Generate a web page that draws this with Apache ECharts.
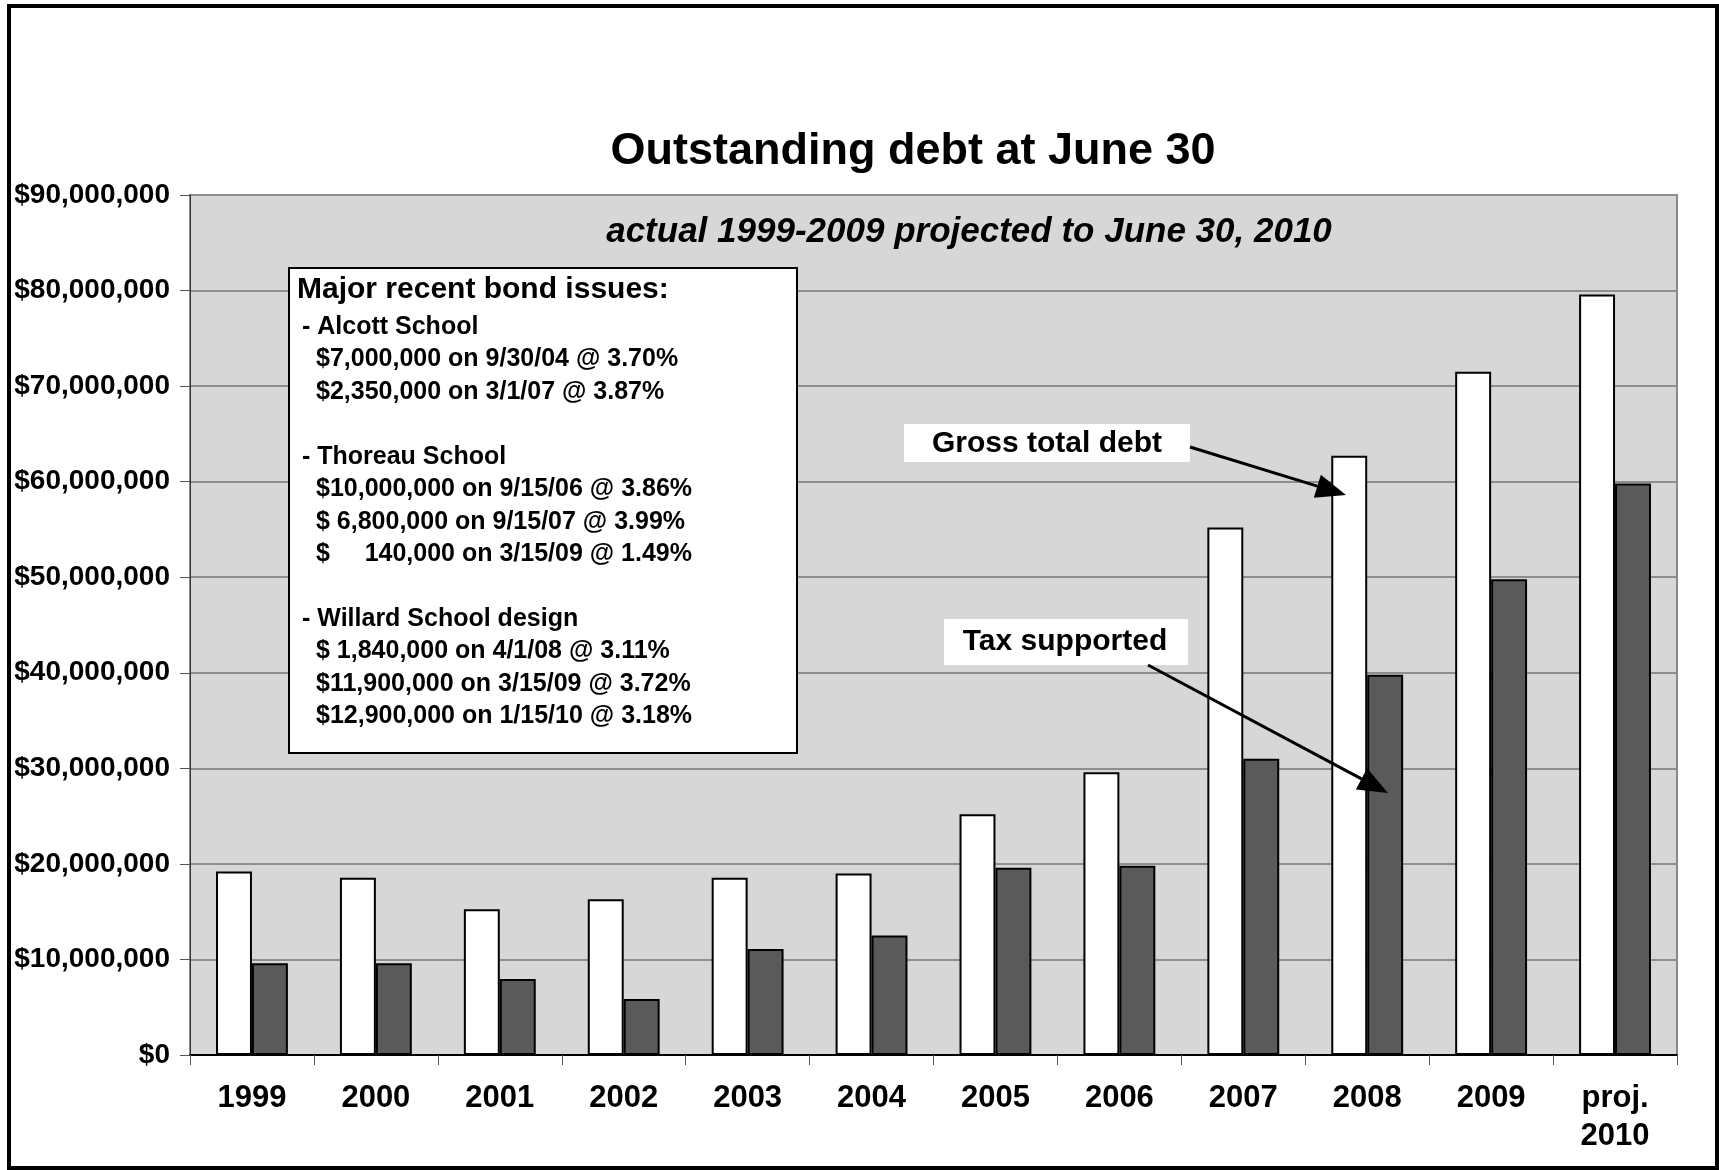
<!DOCTYPE html>
<html>
<head>
<meta charset="utf-8">
<title>Outstanding debt at June 30</title>
<script src="https://cdn.jsdelivr.net/npm/echarts@6/dist/echarts.min.js"></script>
<style>
  html, body { margin: 0; padding: 0; background: #fff; }
  #chart { width: 1719px; height: 1170px; }
</style>
</head>
<body>
<div id="chart"></div>
<script>
// Fiscal years (June 30 balances); the last one is a projection
const categories = ['1999', '2000', '2001', '2002', '2003', '2004', '2005', '2006', '2007', '2008', '2009', 'proj.\n2010'];

// Gross total outstanding debt, dollars
const grossDebt = [19200000, 18550000, 15250000, 16300000, 18550000, 19000000, 25200000, 29600000, 55200000, 62700000, 71500000, 79600000];

// Tax-supported portion, dollars
const taxSupported = [9600000, 9600000, 7950000, 5850000, 11100000, 12500000, 19600000, 19800000, 31000000, 39800000, 49800000, 59800000];

// Value axis range and step
const yMin = 0;
const yMax = 90000000;
const yStep = 10000000;

// Bond issue notes
const noteTitle = 'Major recent bond issues:';
const noteLines = [
  '- Alcott School',
  '$7,000,000 on 9/30/04 @ 3.70%',
  '$2,350,000 on 3/1/07 @ 3.87%',
  '',
  '- Thoreau School',
  '$10,000,000 on 9/15/06 @ 3.86%',
  '$ 6,800,000 on 9/15/07 @ 3.99%',
  '$     140,000 on 3/15/09 @ 1.49%',
  '',
  '- Willard School design',
  '$ 1,840,000 on 4/1/08 @ 3.11%',
  '$11,900,000 on 3/15/09 @ 3.72%',
  '$12,900,000 on 1/15/10 @ 3.18%'
];

const FONT = "'Liberation Sans', Arial, Helvetica, sans-serif";

function money(v) {
  return '$' + Math.round(v).toLocaleString('en-US');
}

const chart = echarts.init(document.getElementById('chart'), null, { renderer: 'canvas' });

// Notes box contents
const noteElements = [
  {
    type: 'rect',
    shape: { x: 289, y: 268, width: 508, height: 485 },
    style: { fill: '#ffffff', stroke: '#000000', lineWidth: 2 },
    z: 100
  },
  {
    type: 'text',
    x: 297, y: 290,
    style: { text: noteTitle, font: 'bold 30px ' + FONT, fill: '#000', textAlign: 'left', textVerticalAlign: 'middle' },
    z: 101
  }
];
noteLines.forEach(function (line, i) {
  if (!line) return;
  noteElements.push({
    type: 'text',
    x: line.charAt(0) === '-' ? 302 : 316,
    y: 327 + i * 32.45,
    style: { text: line, font: 'bold 25px ' + FONT, fill: '#000', textAlign: 'left', textVerticalAlign: 'middle' },
    z: 101
  });
});

// Arrow helper: shaft plus filled head
function arrow(x1, y1, x2, y2) {
  const ang = Math.atan2(y2 - y1, x2 - x1);
  const len = 30, half = 12;
  const bx = x2 - len * Math.cos(ang), by = y2 - len * Math.sin(ang);
  const px = -Math.sin(ang) * half, py = Math.cos(ang) * half;
  return [
    {
      type: 'line',
      shape: { x1: x1, y1: y1, x2: bx, y2: by },
      style: { stroke: '#000', lineWidth: 3 },
      z: 100
    },
    {
      type: 'polygon',
      shape: { points: [[x2, y2], [bx + px, by + py], [bx - px, by - py]] },
      style: { fill: '#000' },
      z: 100
    }
  ];
}

const graphics = [
  // outer frame
  {
    type: 'rect',
    shape: { x: 9, y: 6, width: 1708, height: 1162 },
    style: { fill: null, stroke: '#000', lineWidth: 4 },
    z: 120
  },
  {
    type: 'text',
    x: 913, y: 152,
    style: { text: 'Outstanding debt at June 30', font: 'bold 45px ' + FONT, fill: '#000', textAlign: 'center', textVerticalAlign: 'middle' },
    z: 100
  },
  {
    type: 'text',
    x: 969, y: 232,
    style: { text: 'actual 1999-2009 projected to June 30, 2010', font: 'italic bold 35px ' + FONT, fill: '#000', textAlign: 'center', textVerticalAlign: 'middle' },
    z: 100
  },
  // series call-outs
  {
    type: 'rect',
    shape: { x: 904, y: 424, width: 286, height: 38 },
    style: { fill: '#fff' },
    z: 100
  },
  {
    type: 'text',
    x: 1047, y: 444,
    style: { text: 'Gross total debt', font: 'bold 30px ' + FONT, fill: '#000', textAlign: 'center', textVerticalAlign: 'middle' },
    z: 101
  },
  {
    type: 'rect',
    shape: { x: 944, y: 619, width: 244, height: 46 },
    style: { fill: '#fff' },
    z: 100
  },
  {
    type: 'text',
    x: 1065, y: 642,
    style: { text: 'Tax supported', font: 'bold 30px ' + FONT, fill: '#000', textAlign: 'center', textVerticalAlign: 'middle' },
    z: 101
  }
].concat(arrow(1190, 447, 1346, 495))
 .concat(arrow(1148, 665, 1388, 793))
 .concat(noteElements);

const option = {
  backgroundColor: '#ffffff',
  animation: false,
  grid: {
    left: 190, right: 42, top: 195, bottom: 115,
    show: true,
    backgroundColor: '#d7d7d7',
    borderColor: '#8a8a8a',
    borderWidth: 2
  },
  xAxis: {
    type: 'category',
    data: categories,
    axisLine: { show: true, lineStyle: { color: '#000', width: 2 } },
    axisTick: { show: true, length: 10, lineStyle: { color: '#555', width: 1 } },
    axisLabel: {
      margin: 24,
      color: '#000',
      fontFamily: FONT,
      fontWeight: 'bold',
      fontSize: 31,
      lineHeight: 38
    },
    splitLine: { show: false }
  },
  yAxis: {
    type: 'value',
    min: yMin,
    max: yMax,
    interval: yStep,
    axisLine: { show: true, lineStyle: { color: '#333', width: 1 } },
    axisTick: { show: true, length: 10, lineStyle: { color: '#555', width: 1 } },
    axisLabel: {
      margin: 20,
      color: '#000',
      fontFamily: FONT,
      fontWeight: 'bold',
      fontSize: 28,
      formatter: money
    },
    splitLine: { show: true, lineStyle: { color: '#8e8e8e', width: 2 } }
  },
  series: [
    {
      name: 'Gross total debt',
      type: 'bar',
      data: grossDebt,
      barGap: '0%',
      barCategoryGap: '42%',
      itemStyle: { color: '#ffffff', borderColor: '#000', borderWidth: 2 }
    },
    {
      name: 'Tax supported',
      type: 'bar',
      data: taxSupported,
      barGap: '0%',
      barCategoryGap: '42%',
      itemStyle: { color: '#5a5a5a', borderColor: '#000', borderWidth: 2 }
    }
  ],
  graphic: { elements: graphics }
};

chart.setOption(option);
</script>
</body>
</html>
